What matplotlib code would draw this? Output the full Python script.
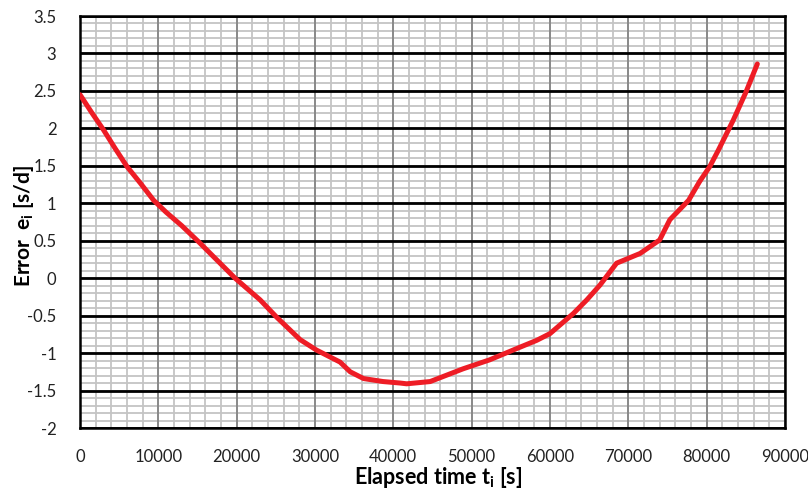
import numpy as np
import matplotlib
matplotlib.use("Agg")
import matplotlib.pyplot as plt
from matplotlib.ticker import MultipleLocator, FormatStrFormatter

plt.rcParams['font.family'] = ['Lato', 'DejaVu Sans']
plt.rcParams['mathtext.default'] = 'regular'

# elapsed time [s] and rate error [s/d]
elapsed = [0, 1500, 3000, 4500, 6000, 7700, 9400, 11000, 13000, 15300, 17500,
           19800, 23000, 25100, 28100, 30200, 33200, 34500, 36200, 38700, 40900,
           41700, 44700, 48900, 52300, 56200, 58300, 60000, 63000, 64700, 66400,
           68500, 71500, 74000, 75300, 77700, 79100, 80400, 81500, 83400, 85000,
           86470]
error = [2.45, 2.21, 1.98, 1.73, 1.49, 1.27, 1.04, 0.88, 0.70, 0.47, 0.24,
         0.0, -0.29, -0.52, -0.82, -0.96, -1.12, -1.25, -1.34, -1.38, -1.40,
         -1.41, -1.38, -1.21, -1.09, -0.92, -0.83, -0.74, -0.47, -0.29, -0.09,
         0.20, 0.33, 0.51, 0.78, 1.04, 1.29, 1.49, 1.71, 2.11, 2.48, 2.86]

xmin, xmax = 0, 90000
ymin, ymax = -2, 3.5

fig = plt.figure(figsize=(8.08, 4.94), dpi=100)
ax = fig.add_axes([0.099, 0.1336, 0.8725, 0.834])

ax.set_xlim(xmin, xmax)
ax.set_ylim(ymin, ymax)
ax.xaxis.set_major_locator(MultipleLocator(10000))
ax.yaxis.set_major_locator(MultipleLocator(0.5))
ax.yaxis.set_major_formatter(FormatStrFormatter('%g'))

# graph-paper grid: light minor lines, grey vertical majors, black horizontal majors
for x in np.arange(xmin, xmax + 1, 2000):
    ax.axvline(x, color='#c4c4c4', lw=1.3, zorder=0.5)
for y in np.arange(ymin, ymax + 0.01, 0.1):
    ax.axhline(y, color='#c4c4c4', lw=1.3, zorder=0.5)
for x in np.arange(xmin, xmax + 1, 10000):
    ax.axvline(x, color='#7f7f7f', lw=1.2, zorder=0.6)
for y in np.arange(ymin, ymax + 0.01, 0.5):
    ax.axhline(y, color='black', lw=2.0, zorder=0.7)

ax.tick_params(which='both', length=0)
ax.tick_params(axis='x', pad=15, labelsize=12, labelcolor='#222222')
ax.tick_params(axis='y', pad=17, labelsize=12, labelcolor='#222222')

for s in ax.spines.values():
    s.set_linewidth(1.8)
    s.set_color('black')
    s.set_zorder(2)

ax.plot(elapsed, error, color='#ee1c25', lw=3.6, solid_capstyle='round',
        solid_joinstyle='round', zorder=3)

ax.set_xlabel('Elapsed time t$_i$ [s]', fontsize=15.5, fontweight='bold')
ax.set_ylabel('Error  e$_i$ [s/d]', fontsize=15, fontweight='bold')
ax.xaxis.set_label_coords(0.508, -0.09)
ax.yaxis.set_label_coords(-0.063, 0.49)

fig.savefig('out.png', dpi=100)
